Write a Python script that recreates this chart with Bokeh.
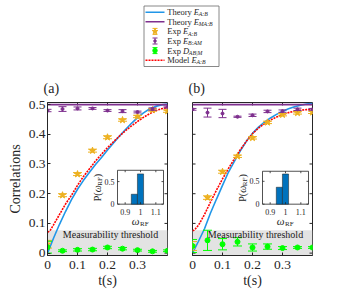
import math
from bokeh.plotting import figure
from bokeh.models import (Range1d, LinearAxis, FixedTicker, BoxAnnotation, Label, Title,
                          NumeralTickFormatter)
from bokeh.layouts import column, row
from bokeh.embed import file_html
from bokeh.resources import INLINE
from bokeh.core.properties import value

FONT = "Liberation Serif"
AX = "#262626"
BLUE = "#2196E8"
PURPLE = "#7E2F8E"
ORANGE = "#EDB120"
GREEN = "#00FF00"
RED = "#FF0000"
BAR = "#0072BD"
BAND = "#E3E3E3"

# ---------------- data ----------------
t_exp = [0, 0.05, 0.1, 0.15, 0.2, 0.25, 0.3, 0.35, 0.4]

a_EAB = [0.030, 0.195, 0.266, 0.345, 0.390, 0.448, 0.460, 0.482, 0.478]
a_EAB_err = [0.013, 0.005, 0.005, 0.005, 0.005, 0.004, 0.004, 0.004, 0.004]
a_EBAM = [0.480, 0.485, 0.487, 0.487, 0.480, 0.478, 0.475, 0.485, 0.492]
a_EBAM_err = [0.004, 0.008, 0.005, 0.003, 0.003, 0.005, 0.003, 0.004, 0.003]
a_D = [0.020, 0.008, 0.011, 0.012, 0.019, 0.015, 0.010, 0.006, 0.008]
a_D_err = [0.020, 0.003, 0.004, 0.004, 0.004, 0.004, 0.003, 0.003, 0.003]

b_EAB = [0.024, 0.187, 0.274, 0.326, 0.388, 0.440, 0.466, 0.472, 0.474]
b_EAB_err = [0.015, 0.006, 0.005, 0.004, 0.004, 0.004, 0.004, 0.004, 0.004]
b_EBAM = [0.484, 0.473, 0.470, 0.459, 0.464, 0.477, 0.478, 0.484, 0.484]
b_EBAM_err = [0.003, 0.015, 0.014, 0.002, 0.004, 0.004, 0.004, 0.004, 0.003]
b_D = [0.024, 0.043, 0.030, 0.038, 0.019, 0.022, 0.017, 0.019, 0.019]
b_D_err = [0.022, 0.034, 0.019, 0.014, 0.012, 0.009, 0.005, 0.003, 0.003]

t_curve = [0, 0.005, 0.01, 0.02, 0.04, 0.06, 0.08, 0.10, 0.12, 0.14, 0.16, 0.18, 0.20,
           0.22, 0.24, 0.26, 0.28, 0.30, 0.32, 0.34, 0.36, 0.38, 0.40]
a_theory = [0.0, 0.012, 0.025, 0.05, 0.097, 0.14, 0.18, 0.215, 0.245, 0.272, 0.298, 0.322,
            0.347, 0.371, 0.394, 0.416, 0.437, 0.456, 0.472, 0.485, 0.494, 0.499, 0.502]
a_model = [0.070, 0.073, 0.078, 0.095, 0.130, 0.165, 0.195, 0.228, 0.258, 0.284, 0.310, 0.333,
           0.355, 0.375, 0.394, 0.412, 0.428, 0.443, 0.457, 0.469, 0.479, 0.486, 0.490]
b_theory = [0.0, 0.010, 0.020, 0.040, 0.082, 0.135, 0.182, 0.228, 0.273, 0.310, 0.345, 0.377,
            0.403, 0.424, 0.441, 0.455, 0.467, 0.477, 0.486, 0.493, 0.498, 0.502, 0.504]
b_model = [0.075, 0.077, 0.082, 0.094, 0.130, 0.172, 0.212, 0.250, 0.285, 0.318, 0.349, 0.377,
           0.402, 0.421, 0.436, 0.448, 0.458, 0.466, 0.473, 0.478, 0.481, 0.483, 0.484]
t_flat = [0, 0.4]
theory_EMAB = [0.5, 0.5]

x_ticks = [0, 0.1, 0.2, 0.3]
y_ticks = [0, 0.1, 0.2, 0.3, 0.4, 0.5]

inset_omega = [0.96, 1.0]
a_P = [0.22, 0.67]
b_P = [0.37, 0.66]
inset_xticks = [0.9, 1.0, 1.1]
inset_xlabels = ["0.9", "1", "1.1"]
inset_yticks = [0, 0.5]
inset_ylabels = ["0", "0.5"]

# ---------------- layout constants ----------------
XMIN, XMAX = 0.0, 0.4
YMIN, YMAX = -0.008, 0.507
FW, FH = 120, 158
TOP, BOTTOM = 25, 37
LH = 72
INSET_X = (0.85, 1.15)
INSET_L, INSET_W, INSET_B = 70, 46, 53
DOT = "2 1"
TICK = 3


def style_axis(ax, size):
    ax.axis_line_color = AX
    ax.major_tick_line_color = AX
    ax.major_tick_in = TICK
    ax.major_tick_out = 0
    ax.minor_tick_line_color = None
    ax.major_label_text_font = FONT
    ax.major_label_text_color = AX
    ax.major_label_text_font_size = size
    ax.axis_label_text_font = FONT
    ax.axis_label_text_color = AX
    ax.axis_label_text_font_style = "normal"


def errorbars(p, x, y, err, color, marker, msize, cap=9):
    lo = [v - e for v, e in zip(y, err)]
    hi = [v + e for v, e in zip(y, err)]
    p.segment(x0=x, y0=lo, x1=x, y1=hi, line_color=color, line_width=1)
    p.scatter(x, lo, marker="dash", size=cap, line_color=color, line_width=1)
    p.scatter(x, hi, marker="dash", size=cap, line_color=color, line_width=1)
    p.scatter(x, y, marker=marker, size=msize, fill_color=color, line_color=color)


def add_inset(p, P, ymax, inset_h):
    ix0, ix1 = INSET_X
    sx = (ix1 - ix0) / INSET_W
    xs = ix0 - INSET_L * sx
    sy = ymax / inset_h
    ys = 0 - INSET_B * sy
    p.extra_x_ranges = {"ix": Range1d(xs, xs + FW * sx)}
    p.extra_y_ranges = {"iy": Range1d(ys, ys + FH * sy)}
    kw = dict(x_range_name="ix", y_range_name="iy")
    p.quad(left=[ix0], right=[ix1], bottom=[0], top=[ymax], fill_color="white",
           line_color=AX, line_width=0.8, **kw)
    p.vbar(x=inset_omega, top=P, width=0.04, bottom=0, fill_color=BAR,
           line_color="#1a1a1a", line_width=0.5, **kw)
    tl = 2
    n = len(inset_xticks)
    m = len(inset_yticks)
    p.segment(x0=inset_xticks, y0=[0] * n, x1=inset_xticks, y1=[tl * sy] * n,
              line_color=AX, line_width=0.8, **kw)
    p.segment(x0=inset_xticks, y0=[ymax] * n, x1=inset_xticks, y1=[ymax - tl * sy] * n,
              line_color=AX, line_width=0.8, **kw)
    p.segment(x0=[ix0] * m, y0=inset_yticks, x1=[ix0 + tl * sx] * m, y1=inset_yticks,
              line_color=AX, line_width=0.8, **kw)
    p.segment(x0=[ix1] * m, y0=inset_yticks, x1=[ix1 - tl * sx] * m, y1=inset_yticks,
              line_color=AX, line_width=0.8, **kw)
    p.text(x=inset_xticks, y=[0] * n, text=inset_xlabels, text_font=value(FONT),
           text_font_size="8px", text_color=AX, text_align="center",
           text_baseline="middle", y_offset=8, **kw)
    p.text(x=[ix0] * m, y=inset_yticks, text=inset_ylabels, text_font=value(FONT),
           text_font_size="8px", text_color=AX, text_align="right",
           text_baseline="middle", x_offset=-3, **kw)
    xm = 1.0
    p.text(x=[xm], y=[0], text=["ω"], text_font=value(FONT), text_font_style="italic",
           text_font_size="11px", text_color=AX, text_align="right",
           text_baseline="middle", y_offset=17, x_offset=-1, **kw)
    p.text(x=[xm], y=[0], text=["RF"], text_font=value(FONT),
           text_font_size="7px", text_color=AX, text_align="left",
           text_baseline="middle", y_offset=20, x_offset=-0.5, **kw)
    ym = ymax / 2
    ang = math.pi / 2
    base = 14
    common = dict(text_color=AX, text_align="left", text_baseline="middle", angle=ang, **kw)
    p.text(x=[ix0], y=[ym], text=["P("], text_font=value(FONT), text_font_size="10px",
           x_offset=-20, y_offset=base, **common)
    p.text(x=[ix0], y=[ym], text=["ω"], text_font=value(FONT), text_font_style="italic",
           text_font_size="10px", x_offset=-20, y_offset=base - 8.9, **common)
    p.text(x=[ix0], y=[ym], text=["RF"], text_font=value(FONT), text_font_size="7px",
           x_offset=-17.5, y_offset=base - 15.5, **common)
    p.text(x=[ix0], y=[ym], text=[")"], text_font=value(FONT), text_font_size="10px",
           x_offset=-20, y_offset=base - 24.1, **common)


def make_panel(tag, EAB, EAB_err, EBAM, EBAM_err, D, D_err, theory, model, P, pmax, ph,
               left, right, ylabels):
    p = figure(width=left + FW + right, height=TOP + FH + BOTTOM,
               x_range=Range1d(XMIN, XMAX), y_range=Range1d(YMIN, YMAX),
               output_backend="svg", toolbar_location=None,
               min_border_left=left, min_border_right=right,
               min_border_top=TOP, min_border_bottom=BOTTOM,
               x_axis_type=None, y_axis_type=None)
    p.grid.visible = False
    p.outline_line_color = AX
    p.background_fill_color = "white"
    p.border_fill_color = "white"

    xa = LinearAxis(ticker=FixedTicker(ticks=x_ticks),
                    formatter=NumeralTickFormatter(format="0.[0]"),
                    axis_label="t(s)", major_label_standoff=5, axis_label_standoff=1)
    style_axis(xa, "13.5px")
    xa.axis_label_text_font_size = "14px"
    p.add_layout(xa, "below")
    if ylabels:
        ya = LinearAxis(ticker=FixedTicker(ticks=y_ticks),
                        formatter=NumeralTickFormatter(format="0.[0]"),
                        major_label_standoff=2, axis_label="Correlations",
                        axis_label_standoff=3)
        style_axis(ya, "13.5px")
        ya.axis_label_text_font_size = "14px"
        p.add_layout(ya, "left")

    # inward ticks on the remaining sides of the box
    dy = TICK * (YMAX - YMIN) / FH
    dx = TICK * (XMAX - XMIN) / FW
    nx, ny = len(x_ticks), len(y_ticks)
    p.segment(x0=x_ticks, y0=[YMAX] * nx, x1=x_ticks, y1=[YMAX - dy] * nx,
              line_color=AX, line_width=1)
    p.segment(x0=[XMAX] * ny, y0=y_ticks, x1=[XMAX - dx] * ny, y1=y_ticks,
              line_color=AX, line_width=1)
    if not ylabels:
        p.segment(x0=[XMIN] * ny, y0=y_ticks, x1=[XMIN + dx] * ny, y1=y_ticks,
                  line_color=AX, line_width=1)

    p.add_layout(Title(text=tag, align="left", offset=-4, standoff=13,
                       text_font=FONT, text_font_size="14px",
                       text_font_style="normal", text_color=AX), "above")

    p.add_layout(BoxAnnotation(top=0.077, fill_color=BAND, fill_alpha=1,
                               line_color=None, level="underlay"))
    p.add_layout(Label(x=0.21, y=0.062, text="Measurability threshold",
                       text_font=FONT, text_font_size="10px", text_color="#1a1a1a",
                       text_align="center", text_baseline="middle"))

    p.line(t_curve, theory, line_color=BLUE, line_width=1.6)
    p.line(t_flat, theory_EMAB, line_color=PURPLE, line_width=1.6)
    p.line(t_curve, model, line_color=RED, line_width=1.6, line_dash=DOT)

    errorbars(p, t_exp, EAB, EAB_err, ORANGE, "star", 7)
    errorbars(p, t_exp, EBAM, EBAM_err, PURPLE, "circle", 3, cap=8)
    errorbars(p, t_exp, D, D_err, GREEN, "circle", 5)

    add_inset(p, P, pmax, ph)
    return p


pa = make_panel("(a)", a_EAB, a_EAB_err, a_EBAM, a_EBAM_err, a_D, a_D_err, a_theory,
                a_model, a_P, 0.75, 35, 47, 10, True)
pb = make_panel("(b)", b_EAB, b_EAB_err, b_EBAM, b_EBAM_err, b_D, b_D_err, b_theory,
                b_model, b_P, 0.72, 34, 15, 30, False)

# ---------------- legend ----------------
LW = 342
lg = figure(width=LW, height=LH, x_range=Range1d(0, LW), y_range=Range1d(LH, 0),
            output_backend="svg", toolbar_location=None, min_border=0,
            x_axis_type=None, y_axis_type=None)
lg.grid.visible = False
lg.outline_line_color = None

leg_words = ["Theory ", "Theory ", "Exp ", "Exp ", "Exp ", "Model "]
leg_sym = ["E", "E", "E", "E", "D", "E"]
leg_sub = ["A:B", "MA:B", "A:B", "B:AM", "AB|M", "A:B"]
leg_y = [11.7, 21.3, 30.9, 40.5, 50.1, 59.7]

TIMES = {'T': .611, 'h': .5, 'e': .444, 'o': .5, 'r': .333, 'y': .5, ' ': .25,
         'E': .611, 'x': .5, 'p': .5, 'M': .889, 'd': .5, 'l': .278, 'D': .722}


def tw(s, size):
    return sum(TIMES.get(c, .5) for c in s) * size


lg.quad(left=[143.5], right=[218.5], top=[5.5], bottom=[66], fill_color="white",
        line_color="#6a6a6a", line_width=0.8)
TX = 166.7
FS = 8.5
for i in range(6):
    y = leg_y[i]
    w1 = tw(leg_words[i], FS)
    w2 = tw(leg_sym[i], FS)
    lg.text(x=[TX], y=[y], text=[leg_words[i].strip()], text_font=value(FONT),
            text_font_size="8.5px", text_color=AX, text_baseline="middle")
    lg.text(x=[TX + w1], y=[y], text=[leg_sym[i]], text_font=value(FONT),
            text_font_style="italic", text_font_size="8.5px", text_color=AX,
            text_baseline="middle")
    lg.text(x=[TX + w1 + w2 - 0.3], y=[y + 2.2], text=[leg_sub[i]], text_font=value(FONT),
            text_font_style="italic", text_font_size="5.8px", text_color=AX,
            text_baseline="middle")

L0, L1, LM = 145, 164, 154.5
lg.line([L0, L1], [leg_y[0]] * 2, line_color=BLUE, line_width=1.6)
lg.line([L0, L1], [leg_y[1]] * 2, line_color=PURPLE, line_width=1.6)
lg.line([L0, L1], [leg_y[5]] * 2, line_color=RED, line_width=1.6, line_dash=DOT)
for yy, col, mk, ms in [(leg_y[2], ORANGE, "star", 6), (leg_y[3], PURPLE, "circle", 2.5),
                        (leg_y[4], GREEN, "circle", 4.5)]:
    lg.segment(x0=[LM], y0=[yy - 3], x1=[LM], y1=[yy + 3], line_color=col, line_width=1)
    lg.scatter([LM, LM], [yy - 3, yy + 3], marker="dash", size=5, line_color=col)
    lg.scatter([LM], [yy], marker=mk, size=ms, fill_color=col, line_color=col)

layout = column(lg, row(pa, pb))
open("out.html", "w").write(file_html(layout, INLINE))
